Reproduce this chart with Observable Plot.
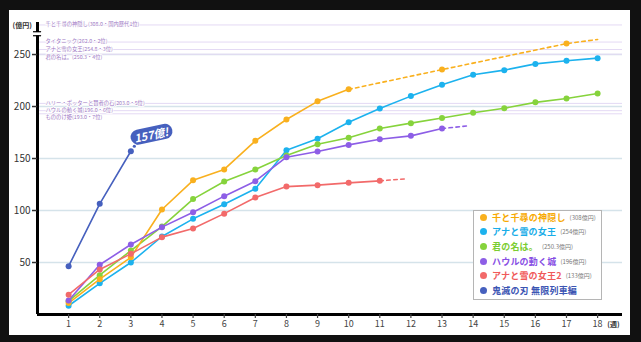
<!DOCTYPE html>
<html><head><meta charset="utf-8">
<script src="https://cdn.jsdelivr.net/npm/d3@7"></script>
<script src="https://cdn.jsdelivr.net/npm/@observablehq/plot@0.6"></script>
<style>
html,body{margin:0;padding:0;background:#111;}
#wrap{position:relative;width:641px;height:342px;background:#111;overflow:hidden;}
#chart{position:absolute;left:9px;top:10px;width:621px;height:325px;background:#fff;}
#chart svg{display:block;}
#legend{position:absolute;left:473px;top:210px;width:127px;height:88px;border:1px solid #b5b5b5;background:#fff;font-family:"Noto Sans CJK JP","Noto Sans",sans-serif;}
.row{position:absolute;left:6px;height:14px;display:flex;align-items:center;white-space:nowrap;}
.sw{width:7px;height:7px;border-radius:50%;margin-right:5px;flex:none;}
.nm{font-size:9px;font-weight:700;letter-spacing:0.2px;}
.vl{font-size:6px;color:#777;margin-left:4px;}
</style></head>
<body>
<div id="wrap"><div id="chart"></div><div id="legend"></div></div>
<script>
// ---- data ----
const weekTicks = [1,2,3,4,5,6,7,8,9,10,11,12,13,14,15,16,17,18];
const yTicks = [50,100,150,200,250];

const seriesNames = ["千と千尋の神隠し","アナと雪の女王","君の名は。","ハウルの動く城","アナと雪の女王2","鬼滅の刃 無限列車編"];
const seriesTotals = ["(308億円)","(254億円)","(250.3億円)","(196億円)","(133億円)",""];
const seriesColors = ["#f9b01e","#1cb2ee","#86d33c","#8d5ee6","#f26a6a","#4660be"];
const legendTextColors = ["#f7a900","#19ade8","#7ccd31","#874fe4","#f05a5a","#3b55b3"];

const spirited = [11, 34, 55, 101, 129, 139.5, 167, 187.5, 205, 216.5];
const spiritedLaterWeeks = [13, 17];
const spiritedLater = [235.5, 260.5];
const spiritedTrendEnd = [18, 264.5];

const frozen = [8.4, 30, 50, 75, 92, 106, 121, 158, 169, 184.8, 198, 210, 221, 230.5, 235, 241, 244, 246.5];
const yourName = [12.8, 37.8, 61.5, 84.6, 111, 127.9, 139.4, 152.9, 163.8, 170, 178.8, 184, 189, 194, 198.4, 204, 207.7, 212.5];
const howl = [13.5, 47.8, 67.3, 84, 98.4, 113.8, 128.2, 151.3, 156.7, 163.1, 168.6, 171.8, 178.8];
const howlTrendEnd = [13.85, 181.5];
const frozen2 = [19, 43.3, 58.3, 74.4, 82.7, 97, 112.5, 123, 124.4, 126.6, 128.5];
const frozen2TrendEnd = [11.85, 130.5];
const kimetsu = [46.5, 106.4, 157];

const refTitles = ["千と千尋の神隠し(308.0・国内歴代1位)","タイタニック(262.0・2位)","アナと雪の女王(254.8・3位)","君の名は。(250.3・4位)","ハリー・ポッターと賢者の石(203.0・5位)","ハウルの動く城(196.0・6位)","もののけ姫(193.0・7位)"];
const refValues = [308, 262, 254.8, 250.3, 203, 196, 193];

// broken y axis: values above the break are compressed
const breakFrom = 266, breakTo = 316, breakShown = 280.8;
const brk = v => v <= breakFrom ? v : breakFrom + (v - breakFrom) * (breakShown - breakFrom) / (breakTo - breakFrom);
const axisBreak = [270];

// ---- tables ----
const rows = (vals, name) => vals.map((v, i) => ({week: i + 1, value: v, name}));
const sSpirited = rows(spirited, seriesNames[0]);
const sFrozen = rows(frozen, seriesNames[1]);
const sYourName = rows(yourName, seriesNames[2]);
const sHowl = rows(howl, seriesNames[3]);
const sFrozen2 = rows(frozen2, seriesNames[4]);
const sKimetsu = rows(kimetsu, seriesNames[5]);

const spiritedLaterRows = spiritedLaterWeeks.map((w, i) => ({week: w, value: spiritedLater[i]}));
const spiritedDash = [sSpirited[sSpirited.length - 1], ...spiritedLaterRows, {week: spiritedTrendEnd[0], value: spiritedTrendEnd[1]}];
const howlDash = [sHowl[sHowl.length - 1], {week: howlTrendEnd[0], value: howlTrendEnd[1]}];
const frozen2Dash = [sFrozen2[sFrozen2.length - 1], {week: frozen2TrendEnd[0], value: frozen2TrendEnd[1]}];
const refs = refValues.map((v, i) => ({value: v, title: refTitles[i], crowded: i > 0 && refValues[i - 1] - v < 5}));
const refsOpen = refs.filter(d => !d.crowded);
const refsCrowded = refs.filter(d => d.crowded);
const callout = [sKimetsu[sKimetsu.length - 1]];

const Y = d => brk(d.value);
const solid = (data, c) => [
  Plot.line(data, {x: "week", y: Y, stroke: c, strokeWidth: 1.6}),
  Plot.dot(data, {x: "week", y: Y, fill: c, r: 3})
];
const dashed = (data, c) => Plot.line(data, {x: "week", y: Y, stroke: c, strokeWidth: 1.6, strokeDasharray: "3.5,3.5"});
const refLabel = {y: Y, text: "title", frameAnchor: "left", dx: 8, textAnchor: "start", fontSize: 5.3, fill: "#9d78c4", stroke: "white", strokeWidth: 1.5, paintOrder: "stroke"};

const chart = Plot.plot({
  width: 621, height: 325,
  marginLeft: 28, marginRight: 8, marginTop: 12, marginBottom: 21,
  style: {fontFamily: '"Noto Sans CJK JP","Noto Sans",sans-serif', background: "white", overflow: "visible"},
  x: {domain: [0, 18.8], axis: null},
  y: {domain: [0, breakShown], axis: null},
  marks: [
    Plot.ruleY(yTicks, {stroke: "#d5e3ea", strokeWidth: 1.5}),
    Plot.ruleY(refs, {y: Y, stroke: "#e4d9f4", strokeWidth: 1}),
    Plot.text(refsOpen, {...refLabel, dy: -0.5}),
    Plot.text(refsCrowded, {...refLabel, dy: 3}),
    dashed(spiritedDash, seriesColors[0]),
    Plot.dot(spiritedLaterRows, {x: "week", y: Y, fill: seriesColors[0], r: 3}),
    dashed(howlDash, seriesColors[3]),
    dashed(frozen2Dash, seriesColors[4]),
    ...solid(sFrozen, seriesColors[1]),
    ...solid(sYourName, seriesColors[2]),
    ...solid(sSpirited, seriesColors[0]),
    ...solid(sHowl, seriesColors[3]),
    ...solid(sFrozen2, seriesColors[4]),
    ...solid(sKimetsu, seriesColors[5]),
    Plot.dot(callout, {x: "week", y: Y, dx: 3.5, dy: -5, r: 1.6, fill: seriesColors[5]}),
    Plot.dot(callout, {x: "week", y: Y, dx: 6.5, dy: -8.5, r: 2, fill: seriesColors[5]}),
    Plot.text(callout, {x: "week", y: Y, text: d => `${d.value}億!`, dx: 20.5, dy: -15.5, rotate: -12, fill: "white", fontWeight: "bold", fontStyle: "italic", fontSize: 11}),
    Plot.ruleX([0], {stroke: "black", strokeWidth: 3}),
    Plot.ruleY([0], {stroke: "black", strokeWidth: 3}),
    Plot.ruleY(axisBreak, {x1: 0, x2: 0.26, dx: -4, stroke: "white", strokeWidth: 3.5}),
    Plot.ruleY(axisBreak, {x1: 0, x2: 0.26, dx: -4, dy: -2, stroke: "black", strokeWidth: 1.2}),
    Plot.ruleY(axisBreak, {x1: 0, x2: 0.26, dx: -4, dy: 2, stroke: "black", strokeWidth: 1.2}),
    Plot.axisY({ticks: yTicks, tickSize: 5, tickPadding: 2, fontSize: 10, color: "#333", strokeWidth: 1.5, label: null}),
    Plot.axisX({ticks: weekTicks, tickSize: 4, tickPadding: 2, fontSize: 9, color: "#444", strokeWidth: 1.2, label: null}),
    Plot.text(["(億円)"], {frameAnchor: "top-left", dx: -25, dy: 1, textAnchor: "start", fontSize: 7, fontWeight: "bold", fill: "#333"}),
    Plot.text(["(週)"], {frameAnchor: "bottom-right", dx: -9, dy: 12, textAnchor: "middle", fontSize: 7, fontWeight: "bold", fill: "#333"})
  ]
});
document.getElementById("chart").appendChild(chart);

// speech-bubble pill behind the callout text
chart.querySelectorAll("text").forEach(t => {
  if (t.textContent === `${callout[0].value}億!`) {
    const b = t.getBBox();
    const r = document.createElementNS("http://www.w3.org/2000/svg", "rect");
    r.setAttribute("x", b.x - 3.5); r.setAttribute("y", b.y + 0.5);
    r.setAttribute("width", b.width + 7); r.setAttribute("height", b.height - 1);
    r.setAttribute("rx", (b.height - 1) / 2);
    r.setAttribute("fill", seriesColors[5]);
    const tr = t.getAttribute("transform"); if (tr) r.setAttribute("transform", tr);
    t.parentNode.insertBefore(r, t);
  }
});

// legend
const legend = document.getElementById("legend");
seriesNames.forEach((n, i) => {
  const row = document.createElement("div");
  row.className = "row";
  row.style.top = (-1 + i * 14.7) + "px";
  row.innerHTML = `<span class="sw" style="background:${seriesColors[i]}"></span><span class="nm" style="color:${legendTextColors[i]}">${n}</span>` + (seriesTotals[i] ? `<span class="vl">${seriesTotals[i]}</span>` : "");
  legend.appendChild(row);
});
</script>
</body></html>
